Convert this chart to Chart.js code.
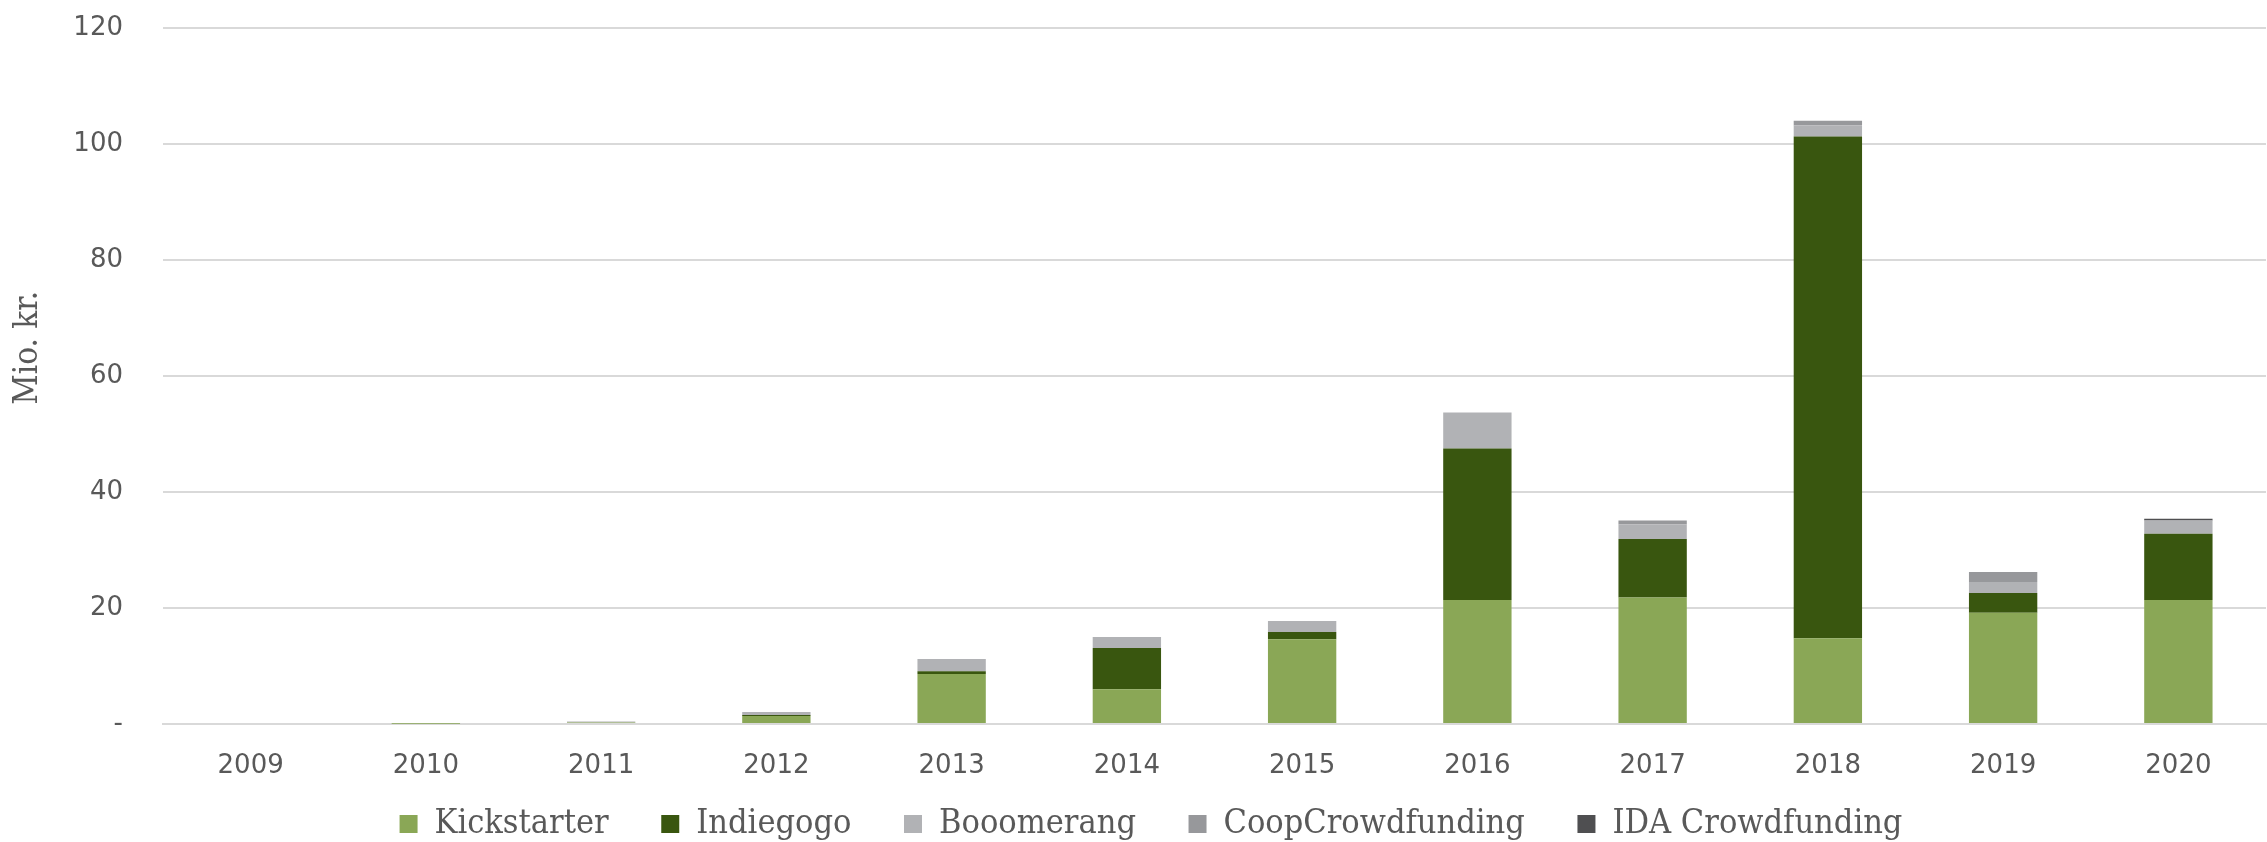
<!DOCTYPE html>
<html>
<head>
<meta charset="utf-8">
<script src="https://cdn.jsdelivr.net/npm/chart.js@4.4.1/dist/chart.umd.min.js"></script>
<style>
  html, body { margin: 0; padding: 0; background: #ffffff; }
  #wrap { width: 2267px; height: 842px; }
</style>
</head>
<body>
<div id="wrap"><canvas id="chart"></canvas></div>
<script>
const years = ["2009", "2010", "2011", "2012", "2013", "2014", "2015", "2016", "2017", "2018", "2019", "2020"];
const kickstarter = [0, 0.05, 0.25, 1.4, 8.6, 6.0, 14.6, 21.4, 21.8, 14.8, 19.2, 21.4];
const indiegogo = [0, 0, 0, 0.15, 0.5, 7.1, 1.25, 26.1, 10.1, 86.5, 3.4, 11.4];
const booomerang = [0, 0.05, 0.2, 0.5, 2.1, 1.9, 1.9, 6.2, 2.5, 1.9, 1.9, 2.3];
const coopCrowdfunding = [0, 0, 0, 0, 0, 0, 0, 0, 0.7, 0.8, 1.7, 0];
const idaCrowdfunding = [0, 0, 0, 0, 0, 0, 0, 0, 0, 0, 0, 0.3];
const yTicks = [0, 20, 40, 60, 80, 100, 120];

const tickFont = { family: "'DejaVu Sans', sans-serif", size: 26 };
const slabFont = { family: "'DejaVu Serif Condensed', 'DejaVu Serif', serif", size: 34 };

const ctx = document.getElementById("chart").getContext("2d");
const chart = new Chart(ctx, {
    type: "bar",
    data: {
        labels: years,
        datasets: [
            { label: "Kickstarter", data: kickstarter, backgroundColor: "#8aa756" },
            { label: "Indiegogo", data: indiegogo, backgroundColor: "#39560f" },
            { label: "Booomerang", data: booomerang, backgroundColor: "#b1b2b5" },
            { label: "CoopCrowdfunding", data: coopCrowdfunding, backgroundColor: "#97989b" },
            { label: "IDA Crowdfunding", data: idaCrowdfunding, backgroundColor: "#4f4f51" },
        ],
    },
    options: {
        responsive: true,
        maintainAspectRatio: false,
        animation: false,
        datasets: {
            bar: { categoryPercentage: 1.0, barPercentage: 0.39 },
        },
        layout: { padding: { top: 28, right: 1, left: 36, bottom: -9 } },
        plugins: {
            legend: {
                position: "bottom",
                labels: {
                    font: slabFont,
                    color: "#595959",
                    boxWidth: 18,
                    boxHeight: 18,
                    padding: 4,
                    // wider gaps between items without a taller legend
                    generateLabels: (c) =>
                        Chart.defaults.plugins.legend.labels.generateLabels(c).map((item, i, arr) => {
                            if (i < arr.length - 1) item.text += "     ";
                            return item;
                        }),
                },
            },
            tooltip: { enabled: false },
        },
        scales: {
            x: {
                stacked: true,
                grid: { display: false, drawTicks: false },
                border: { color: "#d9d9d9", width: 2 },
                ticks: { font: tickFont, color: "#595959", padding: 27 },
                afterFit: (scale) => {
                    scale.height = 79;
                },
            },
            y: {
                stacked: true,
                min: 0,
                max: 120,
                afterBuildTicks: (scale) => {
                    scale.ticks = yTicks.map((v) => ({ value: v }));
                },
                afterFit: (scale) => {
                    scale.width = 127;
                    scale.paddingTop = 0;
                    scale.paddingBottom = 0;
                },
                grid: { color: "#d9d9d9", lineWidth: 2, drawTicks: false },
                border: { display: false },
                ticks: {
                    font: tickFont,
                    color: "#595959",
                    padding: 40,
                    callback: (v) => (v === 0 ? "-" : v),
                },
                title: {
                    display: true,
                    text: "      Mio. kr.",
                    font: { family: slabFont.family, size: 33 },
                    color: "#595959",
                    padding: { top: -27, bottom: 0 },
                },
            },
        },
    },
});
</script>
</body>
</html>
